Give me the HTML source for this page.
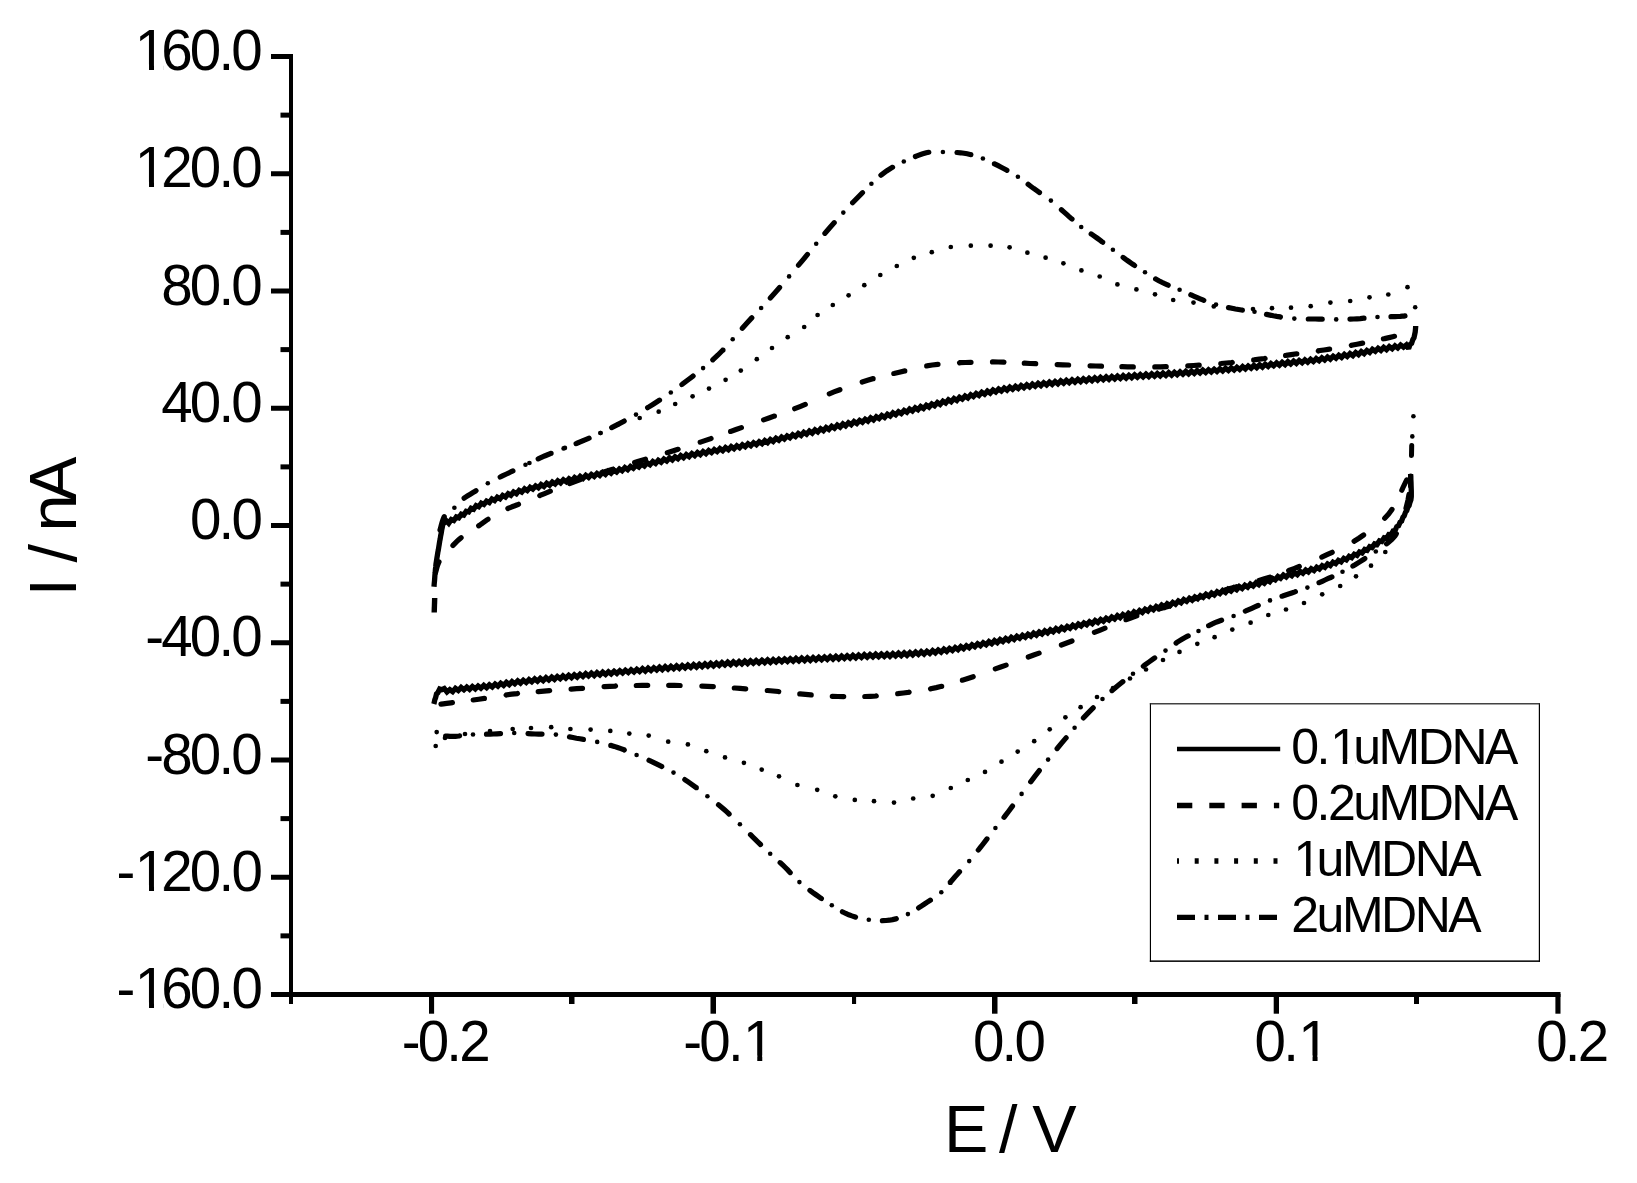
<!DOCTYPE html>
<html lang="en">
<head>
<meta charset="utf-8">
<title>Cyclic voltammograms</title>
<style>
html,body{margin:0;padding:0;background:#fff}
body{width:1637px;height:1183px;overflow:hidden}
svg{display:block}
text{font-family:"Liberation Sans",sans-serif;fill:#000}
.tk text{font-size:56.5px;letter-spacing:-2.8px}
.ax{font-size:66.5px}
.lg text{font-size:50px;letter-spacing:-2.5px}
</style>
</head>
<body>
<svg width="1637" height="1183" viewBox="0 0 1637 1183">
<rect width="1637" height="1183" fill="#fff"/>
<g fill="#000">
<rect x="289" y="54" width="4" height="950"/>
<rect x="271" y="992" width="1289.5" height="5"/>
<rect x="271" y="54.00" width="19" height="5"/>
<rect x="271" y="171.25" width="19" height="5"/>
<rect x="271" y="288.50" width="19" height="5"/>
<rect x="271" y="405.75" width="19" height="5"/>
<rect x="271" y="523.00" width="19" height="5"/>
<rect x="271" y="640.25" width="19" height="5"/>
<rect x="271" y="757.50" width="19" height="5"/>
<rect x="271" y="874.75" width="19" height="5"/>
<rect x="280.5" y="112.62" width="9" height="5"/>
<rect x="280.5" y="229.88" width="9" height="5"/>
<rect x="280.5" y="347.12" width="9" height="5"/>
<rect x="280.5" y="464.38" width="9" height="5"/>
<rect x="280.5" y="581.62" width="9" height="5"/>
<rect x="280.5" y="698.88" width="9" height="5"/>
<rect x="280.5" y="816.12" width="9" height="5"/>
<rect x="280.5" y="933.38" width="9" height="5"/>
<rect x="429" y="994" width="5.1" height="19.7"/>
<rect x="710.5" y="994" width="5.5" height="19.7"/>
<rect x="992" y="994" width="5.5" height="19.7"/>
<rect x="1273.7" y="994" width="5.3" height="19.7"/>
<rect x="1555.4" y="994" width="5.1" height="19.7"/>
<rect x="569" y="994" width="5.5" height="10"/>
<rect x="852" y="994" width="4.1" height="10"/>
<rect x="1132" y="994" width="5.5" height="10"/>
<rect x="1414" y="994" width="5" height="10"/>
</g>
<g class="tk">
<text x="132.6" y="70.1"><tspan dx="2.2">1</tspan><tspan dx="-2.2">60.0</tspan></text>
<text x="132.6" y="187.3"><tspan dx="2.2">1</tspan><tspan dx="-2.2">20.0</tspan></text>
<text x="161.2" y="304.6">80.0</text>
<text x="161.2" y="421.9">40.0</text>
<text x="189.9" y="539.1">0.0</text>
<text x="145.2" y="656.4">-40.0</text>
<text x="145.2" y="773.6">-80.0</text>
<text x="116.6" y="890.9">-<tspan dx="2.2">1</tspan><tspan dx="-2.2">20.0</tspan></text>
<text x="116.6" y="1008.1">-<tspan dx="2.2">1</tspan><tspan dx="-2.2">60.0</tspan></text>
<text x="401.7" y="1061.2">-0.2</text>
<text x="683.3" y="1061.2">-0.<tspan dx="2.2">1</tspan></text>
<text x="973.0" y="1061.2">0.0</text>
<text x="1254.6" y="1061.2">0.<tspan dx="2.2">1</tspan></text>
<text x="1536.2" y="1061.2">0.2</text>
</g>
<text class="ax" x="944 966 999.1 1018 1032.3" y="1152.2">E / V</text>
<text class="ax" transform="translate(76.1 590.5) rotate(-90)" x="-6.1 12 27.9 46 59.1 89.4" y="0">I / nA</text>
<g fill="none" stroke="#000" stroke-linejoin="miter" stroke-miterlimit="1.6">
<path d="M434.0 586.7 L434.2 584.0 L434.5 580.9 L434.7 578.3 L434.9 575.2 L435.2 572.6 L435.4 569.5 L435.7 567.0 L436.0 563.8 L436.4 561.4 L436.9 558.1 L437.3 555.8 L437.8 552.5 L438.3 550.1 L438.8 546.9 L439.2 544.5 L439.7 541.3 L440.2 538.9 L440.7 535.6 L441.2 533.3 L441.7 530.0 L442.2 527.7 L442.8 524.3 L444.0 523.1 L446.2 520.7 L448.7 523.3 L451.3 519.5 L453.8 520.5 L456.3 516.9 L458.8 517.8 L461.3 514.2 L463.8 515.0 L466.2 511.3 L468.7 512.0 L471.1 508.3 L473.6 509.2 L476.1 505.6 L478.7 506.8 L481.3 503.2 L483.9 504.5 L486.6 501.1 L489.3 502.5 L491.9 499.0 L494.6 500.6 L497.3 497.2 L500.0 498.8 L502.7 495.4 L505.5 497.0 L508.2 493.7 L510.9 495.3 L513.6 492.0 L516.4 493.7 L519.1 490.4 L521.8 492.1 L524.6 488.8 L527.3 490.6 L530.1 487.3 L532.8 489.1 L535.6 485.9 L538.4 487.8 L541.1 484.6 L543.9 486.5 L546.7 483.3 L549.5 485.2 L552.3 482.1 L555.1 484.0 L557.8 480.9 L560.6 482.9 L563.4 479.8 L566.2 481.8 L569.0 478.7 L571.8 480.7 L574.6 477.6 L577.4 479.5 L580.2 476.4 L583.0 478.5 L585.8 475.4 L588.6 477.4 L591.4 474.4 L594.2 476.4 L597.0 473.4 L599.8 475.4 L602.6 472.4 L605.4 474.4 L608.2 471.2 L611.0 473.2 L613.8 470.1 L616.6 472.0 L619.4 468.9 L622.1 470.8 L624.9 467.6 L627.7 469.6 L630.5 466.4 L633.3 468.3 L636.1 465.2 L638.9 467.1 L641.6 464.0 L644.4 465.9 L647.2 462.8 L650.0 464.7 L652.8 461.5 L655.6 463.5 L658.3 460.3 L661.1 462.2 L663.9 459.1 L666.7 461.0 L669.5 457.9 L672.3 459.9 L675.1 456.8 L677.9 458.7 L680.7 455.6 L683.5 457.7 L686.3 454.6 L689.1 456.6 L691.9 453.5 L694.7 455.6 L697.5 452.5 L700.3 454.6 L703.1 451.5 L705.9 453.6 L708.7 450.6 L711.5 452.6 L714.3 449.6 L717.1 451.6 L719.9 448.6 L722.7 450.7 L725.5 447.6 L728.4 449.7 L731.2 446.6 L734.0 448.7 L736.8 445.7 L739.6 447.8 L742.4 444.7 L745.2 446.8 L748.0 443.7 L750.8 445.8 L753.6 442.7 L756.4 444.8 L759.2 441.7 L762.0 443.7 L764.8 440.6 L767.6 442.6 L770.4 439.5 L773.2 441.4 L776.0 438.3 L778.8 440.2 L781.6 437.1 L784.3 439.0 L787.1 435.9 L789.9 437.8 L792.7 434.7 L795.5 436.6 L798.3 433.5 L801.1 435.4 L803.8 432.3 L806.6 434.3 L809.4 431.1 L812.2 433.1 L815.0 429.9 L817.8 431.9 L820.6 428.7 L823.4 430.7 L826.1 427.5 L828.9 429.5 L831.7 426.3 L834.5 428.3 L837.3 425.1 L840.1 427.1 L842.9 423.9 L845.6 425.9 L848.4 422.7 L851.2 424.7 L854.0 421.5 L856.8 423.5 L859.6 420.4 L862.4 422.3 L865.2 419.2 L867.9 421.1 L870.7 417.9 L873.5 419.9 L876.3 416.7 L879.1 418.6 L881.8 415.5 L884.6 417.4 L887.4 414.2 L890.2 416.1 L893.0 412.9 L895.7 414.8 L898.5 411.7 L901.3 413.6 L904.1 410.4 L906.9 412.3 L909.6 409.1 L912.4 411.0 L915.2 407.8 L918.0 409.7 L920.7 406.5 L923.5 408.4 L926.3 405.2 L929.0 407.1 L931.8 403.9 L934.6 405.7 L937.4 402.5 L940.1 404.4 L942.9 401.2 L945.7 403.0 L948.4 399.8 L951.2 401.7 L954.0 398.5 L956.8 400.4 L959.5 397.2 L962.3 399.1 L965.1 396.0 L967.9 397.9 L970.7 394.7 L973.4 396.6 L976.2 393.5 L979.0 395.4 L981.8 392.3 L984.6 394.2 L987.4 391.1 L990.2 393.1 L993.0 390.0 L995.8 392.0 L998.6 389.0 L1001.4 391.0 L1004.2 388.0 L1007.0 390.1 L1009.8 387.1 L1012.6 389.3 L1015.5 386.3 L1018.3 388.5 L1021.1 385.5 L1023.9 387.7 L1026.8 384.8 L1029.6 387.0 L1032.4 384.1 L1035.2 386.3 L1038.1 383.4 L1040.9 385.6 L1043.7 382.7 L1046.6 385.0 L1049.4 382.1 L1052.2 384.4 L1055.1 381.5 L1057.9 383.8 L1060.7 380.9 L1063.6 383.2 L1066.4 380.3 L1069.2 382.7 L1072.1 379.8 L1074.9 382.1 L1077.8 379.3 L1080.6 381.6 L1083.4 378.8 L1086.3 381.1 L1089.1 378.3 L1092.0 380.6 L1094.8 377.8 L1097.6 380.2 L1100.5 377.3 L1103.3 379.7 L1106.2 376.9 L1109.0 379.3 L1111.8 376.5 L1114.7 378.9 L1117.5 376.1 L1120.4 378.5 L1123.2 375.7 L1126.1 378.1 L1128.9 375.3 L1131.7 377.7 L1134.6 374.9 L1137.4 377.3 L1140.3 374.6 L1143.1 377.0 L1146.0 374.2 L1148.8 376.6 L1151.7 373.8 L1154.5 376.2 L1157.3 373.5 L1160.2 375.9 L1163.0 373.1 L1165.9 375.5 L1168.7 372.7 L1171.6 375.1 L1174.4 372.3 L1177.2 374.7 L1180.1 371.9 L1182.9 374.2 L1185.8 371.4 L1188.6 373.8 L1191.5 371.0 L1194.3 373.4 L1197.1 370.6 L1200.0 372.9 L1202.8 370.1 L1205.7 372.5 L1208.5 369.7 L1211.3 372.0 L1214.2 369.2 L1217.0 371.5 L1219.9 368.7 L1222.7 371.0 L1225.5 368.2 L1228.4 370.5 L1231.2 367.7 L1234.1 370.0 L1236.9 367.2 L1239.7 369.5 L1242.6 366.6 L1245.4 368.9 L1248.2 366.0 L1251.1 368.3 L1253.9 365.4 L1256.7 367.7 L1259.6 364.8 L1262.4 367.1 L1265.2 364.2 L1268.1 366.4 L1270.9 363.5 L1273.7 365.8 L1276.6 362.9 L1279.4 365.2 L1282.2 362.3 L1285.1 364.6 L1287.9 361.7 L1290.7 364.0 L1293.6 361.1 L1296.4 363.4 L1299.2 360.5 L1302.1 362.8 L1304.9 359.9 L1307.7 362.2 L1310.6 359.3 L1313.4 361.5 L1316.2 358.6 L1319.1 360.8 L1321.9 357.8 L1324.7 360.0 L1327.5 357.0 L1330.3 359.2 L1333.2 356.2 L1336.0 358.3 L1338.8 355.3 L1341.6 357.4 L1344.4 354.4 L1347.2 356.5 L1350.0 353.5 L1352.9 355.6 L1355.7 352.5 L1358.5 354.6 L1361.3 351.6 L1364.1 353.6 L1366.9 350.5 L1369.7 352.4 L1372.4 349.3 L1375.3 351.3 L1378.1 348.3 L1380.9 350.4 L1383.7 347.4 L1386.5 349.6 L1389.3 346.6 L1392.2 348.8 L1395.0 345.8 L1397.8 348.0 L1400.6 345.0 L1403.5 347.2 L1406.3 344.9 L1408.6 348.7 L1410.1 344.4 L1411.6 343.3 L1412.9 339.5 L1414.0 337.8 L1414.7 334.4 L1415.2 332.1 L1415.5 328.9 L1415.7 326.3 L1415.7 326.0" stroke-width="5.3"/>
<path d="M1410.6 474.0 L1410.7 476.9 L1410.8 479.6 L1411.0 482.6 L1411.1 485.3 L1411.2 488.3 L1411.3 491.1 L1411.3 494.0 L1411.3 496.7 L1410.9 499.9 L1410.1 501.9 L1409.1 505.5 L1407.9 507.1 L1406.7 510.7 L1405.5 512.2 L1404.2 515.9 L1403.0 517.2 L1401.6 521.0 L1400.1 522.1 L1398.5 525.9 L1396.8 526.7 L1395.1 530.5 L1393.2 530.9 L1391.1 534.7 L1388.8 534.5 L1386.6 538.3 L1384.2 537.8 L1381.8 541.5 L1379.5 540.9 L1377.0 544.6 L1374.6 543.9 L1372.1 547.5 L1369.7 546.7 L1367.2 550.3 L1364.7 549.4 L1362.1 553.0 L1359.5 551.9 L1357.0 555.4 L1354.3 554.2 L1351.7 557.7 L1349.1 556.4 L1346.4 559.8 L1343.8 558.4 L1341.1 561.8 L1338.4 560.4 L1335.7 563.7 L1333.0 562.2 L1330.3 565.6 L1327.6 564.0 L1324.9 567.3 L1322.2 565.7 L1319.4 569.0 L1316.7 567.3 L1314.0 570.6 L1311.2 568.8 L1308.4 572.0 L1305.7 570.1 L1302.9 573.3 L1300.1 571.4 L1297.3 574.6 L1294.5 572.6 L1291.8 575.8 L1289.0 573.9 L1286.2 577.0 L1283.4 575.1 L1280.6 578.3 L1277.9 576.5 L1275.2 579.8 L1272.5 578.4 L1269.8 581.8 L1267.1 580.0 L1264.3 583.2 L1261.5 581.4 L1258.8 584.6 L1256.0 582.7 L1253.2 585.9 L1250.4 584.0 L1247.7 587.2 L1244.9 585.3 L1242.1 588.5 L1239.3 586.6 L1236.6 589.8 L1233.8 587.9 L1231.0 591.1 L1228.2 589.2 L1225.5 592.4 L1222.7 590.5 L1219.9 593.6 L1217.1 591.7 L1214.3 594.9 L1211.6 593.0 L1208.8 596.2 L1206.0 594.3 L1203.2 597.4 L1200.4 595.6 L1197.7 598.7 L1194.9 596.9 L1192.1 600.1 L1189.4 598.2 L1186.6 601.4 L1183.8 599.6 L1181.1 602.8 L1178.3 601.0 L1175.5 604.2 L1172.8 602.4 L1170.0 605.6 L1167.2 603.8 L1164.5 607.0 L1161.7 605.1 L1158.9 608.3 L1156.2 606.5 L1153.4 609.7 L1150.6 607.8 L1147.9 611.0 L1145.1 609.2 L1142.3 612.4 L1139.6 610.6 L1136.8 613.8 L1134.0 611.9 L1131.3 615.1 L1128.5 613.2 L1125.7 616.4 L1122.9 614.5 L1120.1 617.7 L1117.4 615.7 L1114.6 618.9 L1111.8 617.0 L1109.0 620.1 L1106.2 618.2 L1103.4 621.3 L1100.7 619.4 L1097.9 622.5 L1095.1 620.5 L1092.3 623.7 L1089.5 621.7 L1086.7 624.8 L1083.9 622.9 L1081.1 626.0 L1078.3 624.0 L1075.5 627.2 L1072.8 625.2 L1070.0 628.3 L1067.2 626.4 L1064.4 629.5 L1061.6 627.5 L1058.8 630.6 L1056.0 628.6 L1053.2 631.7 L1050.4 629.8 L1047.6 632.9 L1044.8 630.9 L1042.0 634.0 L1039.2 632.0 L1036.4 635.1 L1033.6 633.1 L1030.8 636.2 L1028.0 634.2 L1025.3 637.3 L1022.5 635.3 L1019.7 638.3 L1016.9 636.3 L1014.1 639.4 L1011.3 637.4 L1008.5 640.5 L1005.7 638.5 L1002.9 641.5 L1000.1 639.5 L997.3 642.6 L994.5 640.6 L991.7 643.7 L988.9 641.6 L986.1 644.7 L983.2 642.7 L980.4 645.7 L977.6 643.7 L974.8 646.8 L972.0 644.7 L969.2 647.8 L966.4 645.7 L963.6 648.7 L960.8 646.6 L958.0 649.6 L955.2 647.5 L952.4 650.5 L949.5 648.4 L946.7 651.4 L943.9 649.2 L941.1 652.2 L938.2 650.0 L935.4 652.9 L932.6 650.6 L929.8 653.5 L926.9 651.2 L924.1 654.1 L921.2 651.7 L918.4 654.5 L915.6 652.1 L912.7 654.9 L909.9 652.5 L907.0 655.3 L904.2 652.9 L901.3 655.7 L898.5 653.2 L895.6 656.0 L892.8 653.5 L889.9 656.3 L887.1 653.8 L884.3 656.5 L881.4 654.0 L878.6 656.7 L875.7 654.2 L872.9 656.9 L870.0 654.5 L867.2 657.2 L864.3 654.7 L861.5 657.5 L858.6 655.0 L855.8 657.8 L852.9 655.4 L850.1 658.1 L847.2 655.7 L844.4 658.4 L841.6 656.0 L838.7 658.8 L835.9 656.3 L833.0 659.1 L830.2 656.6 L827.3 659.4 L824.5 657.0 L821.6 659.7 L818.8 657.3 L815.9 660.0 L813.1 657.6 L810.3 660.3 L807.4 657.8 L804.6 660.6 L801.7 658.1 L798.9 660.9 L796.0 658.4 L793.2 661.1 L790.3 658.7 L787.5 661.4 L784.6 659.0 L781.8 661.7 L778.9 659.3 L776.1 662.0 L773.2 659.6 L770.4 662.3 L767.6 659.9 L764.7 662.6 L761.9 660.2 L759.0 662.9 L756.2 660.5 L753.3 663.2 L750.5 660.8 L747.6 663.6 L744.8 661.1 L741.9 663.9 L739.1 661.5 L736.3 664.2 L733.4 661.8 L730.6 664.6 L727.7 662.2 L724.9 665.0 L722.0 662.6 L719.2 665.4 L716.4 663.0 L713.5 665.8 L710.7 663.4 L707.8 666.2 L705.0 663.8 L702.1 666.6 L699.3 664.3 L696.5 667.1 L693.6 664.7 L690.8 667.5 L687.9 665.1 L685.1 667.9 L682.2 665.5 L679.4 668.3 L676.6 665.9 L673.7 668.7 L670.9 666.3 L668.0 669.1 L665.2 666.7 L662.3 669.6 L659.5 667.2 L656.7 670.0 L653.8 667.7 L651.0 670.5 L648.1 668.1 L645.3 671.0 L642.5 668.6 L639.6 671.5 L636.8 669.2 L634.0 672.0 L631.1 669.7 L628.3 672.5 L625.4 670.2 L622.6 673.0 L619.8 670.7 L616.9 673.5 L614.1 671.2 L611.2 674.0 L608.4 671.7 L605.6 674.5 L602.7 672.1 L599.9 675.0 L597.0 672.6 L594.2 675.5 L591.4 673.1 L588.5 676.0 L585.7 673.6 L582.9 676.5 L580.0 674.2 L577.2 677.1 L574.3 674.8 L571.5 677.6 L568.7 675.3 L565.8 678.2 L563.0 675.9 L560.2 678.8 L557.3 676.5 L554.5 679.4 L551.7 677.1 L548.8 680.0 L546.0 677.7 L543.2 680.6 L540.3 678.3 L537.5 681.2 L534.7 678.9 L531.8 681.8 L529.0 679.6 L526.2 682.5 L523.3 680.2 L520.5 683.1 L517.7 680.9 L514.8 683.8 L512.0 681.6 L509.2 684.6 L506.4 682.4 L503.6 685.4 L500.7 683.2 L497.9 686.2 L495.1 684.0 L492.3 687.0 L489.4 684.8 L486.6 687.7 L483.8 685.4 L480.9 688.3 L478.1 686.0 L475.3 688.9 L472.4 686.5 L469.6 689.4 L466.8 687.0 L463.9 689.8 L461.1 687.5 L458.3 690.5 L455.4 688.4 L452.7 691.6 L449.8 689.5 L447.0 691.9 L444.3 688.5 L441.8 689.7 L439.7 689.0 L437.8 692.8 L436.5 694.0 L435.6 697.6 L434.8 699.7 L434.1 703.1 L433.8 704.1" stroke-width="5.3"/>
<path d="M435.5 572.8 L435.9 571.4 L436.4 569.5 L437.0 567.2 L437.8 564.8 L438.8 562.3 L439.0 561.9 M452.9 545.5 L453.5 544.8 L455.2 543.1 L456.9 541.4 L458.7 539.8 L460.5 538.2 L461.1 537.7 M478.7 525.8 L479.2 525.5 L481.2 524.0 L483.2 522.6 L485.3 521.1 L487.4 519.7 L488.0 519.3 M507.9 508.5 L508.6 508.2 L510.7 507.3 L512.7 506.5 L514.9 505.7 L517.3 504.8 L518.5 504.3 M539.8 495.6 L540.1 495.4 L544.6 493.6 L549.2 491.7 L550.3 491.2 M569.6 483.5 L575.0 481.5 L580.4 479.6 M602.0 472.6 L603.9 472.0 L611.9 469.5 L612.9 469.2 M634.6 462.5 L637.7 461.6 L645.5 459.2 M667.3 452.7 L672.7 451.0 L678.1 449.3 M700.2 442.2 L700.5 442.1 L705.6 440.4 L710.8 438.6 L711.0 438.5 M730.6 431.4 L730.8 431.4 L736.0 429.5 L741.4 427.6 L741.4 427.6 M763.6 419.9 L769.0 418.0 L774.2 416.1 L774.4 416.1 M794.7 408.7 L800.0 406.6 L805.3 404.4 M829.3 393.8 L834.6 391.7 L839.9 389.7 M862.2 382.0 L862.2 382.0 L867.6 380.3 L872.9 378.7 L873.1 378.7 M893.8 373.5 L894.0 373.5 L899.3 372.2 L904.7 370.9 L904.8 370.9 M926.7 365.9 L926.8 365.9 L932.3 365.0 L937.8 364.3 L938.0 364.3 M959.6 362.8 L959.8 362.7 L965.3 362.5 L970.8 362.3 L971.0 362.3 M992.5 361.9 L992.8 361.9 L998.2 362.0 L1003.6 362.1 L1003.9 362.2 M1024.3 363.2 L1024.6 363.2 L1030.0 363.5 L1035.4 363.7 L1035.7 363.7 M1057.2 364.6 L1057.4 364.6 L1062.9 364.8 L1068.4 365.0 L1068.6 365.0 M1090.1 365.8 L1090.4 365.8 L1095.8 366.0 L1101.2 366.2 L1101.5 366.2 M1121.9 366.7 L1122.2 366.7 L1127.6 366.8 L1133.0 366.9 L1133.3 366.9 M1154.8 366.9 L1155.0 366.9 L1160.5 366.8 L1166.0 366.7 L1166.2 366.7 M1187.8 365.8 L1188.0 365.8 L1193.5 365.5 L1199.0 365.2 L1199.2 365.2 M1220.8 363.5 L1221.0 363.5 L1226.5 363.0 L1232.0 362.5 L1232.2 362.4 M1253.7 359.9 L1254.0 359.9 L1259.4 359.2 L1264.8 358.5 L1265.0 358.4 M1285.6 355.4 L1285.9 355.4 L1291.2 354.6 L1296.6 353.8 L1296.8 353.8 M1318.4 350.9 L1318.5 350.8 L1324.0 350.0 L1329.5 349.1 L1329.6 349.1 M1351.4 345.3 L1351.6 345.2 L1357.0 344.2 L1362.6 343.1 L1362.6 343.1 M1383.4 338.8 L1384.6 338.6 L1389.0 337.6 L1392.7 336.7 L1394.5 336.3" stroke-width="5.2" stroke-linecap="round"/>
<path d="M1406.7 479.9 L1406.7 479.9 L1405.0 483.3 L1403.0 487.5 L1401.8 490.2 M1392.0 509.4 L1388.6 514.0 L1384.7 518.2 M1363.6 535.0 L1358.9 538.2 L1354.1 541.2 M1332.2 552.3 L1327.0 554.7 L1321.8 557.1 M1299.3 566.5 L1294.0 568.6 L1288.9 570.5 L1288.7 570.6 M1269.9 577.1 L1269.7 577.2 L1264.5 578.8 L1259.0 580.4 M1236.5 586.7 L1235.7 586.9 L1230.0 588.5 L1225.6 589.8 M1203.1 596.2 L1202.5 596.4 L1197.0 598.0 L1192.2 599.4 M1169.8 605.9 L1169.8 605.9 L1164.3 607.5 L1158.8 609.1 M1136.8 615.9 L1131.4 617.7 L1126.1 619.7 L1126.0 619.7 M1105.0 628.2 L1099.7 630.3 L1094.4 632.4 M1072.0 641.0 L1066.7 643.0 L1061.4 645.0 M1039.1 653.1 L1033.7 655.0 L1028.3 657.0 M1006.1 665.1 L1000.7 667.0 L995.3 668.9 M973.2 676.7 L973.2 676.7 L967.8 678.5 L962.5 680.2 L962.4 680.2 M941.7 686.3 L941.5 686.3 L936.2 687.6 L930.8 688.7 L930.6 688.8 M909.0 692.2 L908.9 692.3 L903.4 693.0 L897.9 693.7 L897.7 693.7 M876.2 695.9 L876.0 696.0 L870.5 696.3 L865.1 696.5 L864.8 696.5 M843.7 696.6 L843.4 696.6 L838.0 696.5 L832.6 696.3 L832.3 696.3 M811.2 694.9 L810.9 694.9 L805.5 694.4 L800.1 693.9 L799.8 693.9 M778.7 691.6 L778.4 691.5 L773.0 691.0 L767.5 690.5 L767.3 690.5 M745.7 688.8 L745.5 688.8 L740.0 688.4 L734.6 688.0 L734.3 688.0 M713.3 686.6 L713.0 686.6 L707.6 686.3 L702.1 686.1 L701.9 686.1 M680.1 685.5 L679.9 685.5 L674.4 685.4 L669.0 685.3 L668.7 685.3 M647.7 685.3 L647.4 685.3 L642.0 685.4 L636.6 685.5 L636.3 685.5 M615.5 686.0 L615.2 686.1 L609.8 686.3 L604.3 686.6 L604.1 686.6 M582.5 688.3 L582.3 688.3 L576.8 688.7 L571.3 689.1 L571.1 689.1 M549.6 690.6 L549.3 690.7 L543.9 691.1 L538.5 691.6 L538.2 691.6 M517.5 693.5 L517.2 693.6 L511.8 694.2 L506.3 694.9 L506.2 695.0 M484.4 698.4 L484.3 698.4 L478.8 699.2 L473.2 700.0 L473.2 700.0 M452.4 702.7 L450.9 702.9 L446.7 703.4 L443.3 703.8 L441.0 704.1" stroke-width="5.2" stroke-linecap="round"/>
<path d="M434.2 612.5L434.7 598" stroke-width="5.4"/>
<g fill="#000" stroke="none">
<circle cx="512.0" cy="471.3" r="2.35"/><circle cx="529.4" cy="463.0" r="2.35"/><circle cx="547.0" cy="455.0" r="2.35"/><circle cx="564.9" cy="447.9" r="2.35"/><circle cx="582.9" cy="440.8" r="2.35"/><circle cx="600.5" cy="433.0" r="2.35"/><circle cx="617.8" cy="424.5" r="2.35"/><circle cx="639.7" cy="418.0" r="2.35"/><circle cx="658.7" cy="411.7" r="2.35"/><circle cx="675.2" cy="404.0" r="2.35"/><circle cx="692.6" cy="396.3" r="2.35"/><circle cx="709.0" cy="388.6" r="2.35"/><circle cx="725.6" cy="379.8" r="2.35"/><circle cx="740.8" cy="370.6" r="2.35"/><circle cx="756.8" cy="359.2" r="2.35"/><circle cx="772.0" cy="348.0" r="2.35"/><circle cx="787.7" cy="337.2" r="2.35"/><circle cx="804.2" cy="327.0" r="2.35"/><circle cx="817.6" cy="315.0" r="2.35"/><circle cx="832.8" cy="305.0" r="2.35"/><circle cx="848.6" cy="295.3" r="2.35"/><circle cx="864.3" cy="285.2" r="2.35"/><circle cx="880.3" cy="275.0" r="2.35"/><circle cx="896.8" cy="266.0" r="2.35"/><circle cx="913.8" cy="257.8" r="2.35"/><circle cx="931.8" cy="252.2" r="2.35"/><circle cx="950.8" cy="247.0" r="2.35"/><circle cx="970.8" cy="245.7" r="2.35"/><circle cx="990.6" cy="245.7" r="2.35"/><circle cx="1009.6" cy="247.3" r="2.35"/><circle cx="1027.4" cy="252.7" r="2.35"/><circle cx="1045.6" cy="257.7" r="2.35"/><circle cx="1063.4" cy="263.3" r="2.35"/><circle cx="1081.4" cy="270.4" r="2.35"/><circle cx="1099.7" cy="276.5" r="2.35"/><circle cx="1117.4" cy="284.4" r="2.35"/><circle cx="1136.4" cy="289.4" r="2.35"/><circle cx="1155.0" cy="294.3" r="2.35"/><circle cx="1173.2" cy="300.0" r="2.35"/><circle cx="1193.5" cy="302.6" r="2.35"/><circle cx="1213.8" cy="306.4" r="2.35"/><circle cx="1233.0" cy="308.5" r="2.35"/><circle cx="1253.0" cy="309.0" r="2.35"/><circle cx="1272.0" cy="308.2" r="2.35"/><circle cx="1291.0" cy="307.7" r="2.35"/><circle cx="1310.7" cy="306.2" r="2.35"/><circle cx="1330.4" cy="302.6" r="2.35"/><circle cx="1350.2" cy="301.0" r="2.35"/><circle cx="1369.5" cy="297.3" r="2.35"/><circle cx="1388.3" cy="294.5" r="2.35"/><circle cx="1407.5" cy="287.2" r="2.35"/>
<circle cx="1385.3" cy="552.0" r="2.35"/><circle cx="1371.0" cy="565.7" r="2.35"/><circle cx="1356.0" cy="576.3" r="2.35"/><circle cx="1340.2" cy="586.0" r="2.35"/><circle cx="1322.2" cy="594.3" r="2.35"/><circle cx="1304.0" cy="603.0" r="2.35"/><circle cx="1286.0" cy="609.5" r="2.35"/><circle cx="1268.3" cy="615.0" r="2.35"/><circle cx="1250.6" cy="622.7" r="2.35"/><circle cx="1232.3" cy="629.6" r="2.35"/><circle cx="1214.6" cy="637.2" r="2.35"/><circle cx="1197.3" cy="643.8" r="2.35"/><circle cx="1179.5" cy="651.9" r="2.35"/><circle cx="1163.0" cy="660.0" r="2.35"/><circle cx="1146.0" cy="669.5" r="2.35"/><circle cx="1130.0" cy="678.5" r="2.35"/><circle cx="1113.0" cy="688.0" r="2.35"/><circle cx="1097.0" cy="697.0" r="2.35"/><circle cx="1080.6" cy="707.2" r="2.35"/><circle cx="1065.4" cy="717.3" r="2.35"/><circle cx="1049.7" cy="729.3" r="2.35"/><circle cx="1034.2" cy="741.2" r="2.35"/><circle cx="1017.7" cy="751.6" r="2.35"/><circle cx="1001.5" cy="761.7" r="2.35"/><circle cx="985.0" cy="771.9" r="2.35"/><circle cx="967.8" cy="780.0" r="2.35"/><circle cx="950.8" cy="788.0" r="2.35"/><circle cx="932.7" cy="795.8" r="2.35"/><circle cx="913.2" cy="798.5" r="2.35"/><circle cx="894.0" cy="802.6" r="2.35"/><circle cx="874.0" cy="801.2" r="2.35"/><circle cx="854.8" cy="799.9" r="2.35"/><circle cx="835.3" cy="796.3" r="2.35"/><circle cx="817.2" cy="789.8" r="2.35"/><circle cx="797.4" cy="785.0" r="2.35"/><circle cx="779.0" cy="776.3" r="2.35"/><circle cx="761.7" cy="769.6" r="2.35"/><circle cx="743.9" cy="762.8" r="2.35"/><circle cx="725.0" cy="757.4" r="2.35"/><circle cx="706.3" cy="751.2" r="2.35"/><circle cx="687.9" cy="744.4" r="2.35"/><circle cx="668.2" cy="741.7" r="2.35"/><circle cx="648.7" cy="735.6" r="2.35"/><circle cx="629.3" cy="733.6" r="2.35"/><circle cx="610.3" cy="730.9" r="2.35"/><circle cx="590.6" cy="729.6" r="2.35"/><circle cx="570.4" cy="729.0" r="2.35"/><circle cx="551.2" cy="727.2" r="2.35"/><circle cx="531.0" cy="728.0" r="2.35"/><circle cx="512.7" cy="729.0" r="2.35"/><circle cx="490.0" cy="731.0" r="2.35"/><circle cx="465.0" cy="734.0" r="2.35"/><circle cx="445.0" cy="738.0" r="2.35"/><circle cx="435.7" cy="746.0" r="2.35"/><circle cx="436.7" cy="732.1" r="2.35"/>
</g>
<path d="M440.0 530.0 L440.5 528.3 L441.1 525.8 L441.9 522.9 L442.8 520.0 L443.9 517.2 L444.2 516.6 M464.1 498.2 L465.2 497.4 L467.7 495.8 L470.3 494.2 L473.0 492.5 L475.6 491.0 L476.0 490.7 M500.2 477.0 L502.4 475.9 L506.5 474.0 L511.6 471.5 L512.9 470.9 M538.2 458.9 L544.6 456.0 L551.0 453.3 L551.1 453.3 M576.1 443.6 L576.4 443.5 L582.6 440.9 L588.6 438.3 L589.1 438.1 M611.7 427.6 L612.1 427.4 L618.0 424.4 L623.9 421.3 L624.2 421.1 M647.6 407.7 L647.8 407.6 L653.6 404.0 L659.4 400.3 L659.5 400.2 M681.9 384.5 L682.1 384.4 L687.5 380.3 L692.8 376.3 L693.1 376.0 M712.8 359.8 L713.0 359.6 L718.0 355.0 L722.9 350.0 L723.0 350.0 M742.3 328.2 L747.0 323.0 L751.7 317.9 L751.8 317.8 M770.3 298.0 L770.3 298.0 L775.0 292.8 L779.6 287.5 M798.5 265.2 L803.0 259.8 L807.5 254.4 L807.5 254.4 M824.9 233.3 L825.0 233.2 L829.5 228.0 L834.1 222.8 L834.2 222.7 M852.6 202.7 L852.8 202.5 L857.5 197.7 L862.2 192.9 L862.5 192.7 M880.9 175.2 L881.4 174.8 L886.6 171.0 L892.3 167.4 L892.6 167.3 M915.4 156.5 L916.9 155.9 L922.0 154.0 L926.3 152.8 L928.8 152.3 M957.0 152.5 L957.0 152.5 L960.6 152.8 L964.0 153.3 L967.2 153.8 L970.1 154.5 L970.9 154.6 M994.4 163.8 L994.5 163.8 L997.7 165.4 L1000.7 167.0 L1003.6 168.5 L1006.4 170.0 L1006.9 170.3 M1028.1 184.3 L1028.2 184.4 L1031.0 186.5 L1033.7 188.5 L1036.5 190.4 L1039.2 192.3 L1039.5 192.5 M1061.4 209.7 L1064.1 212.1 L1066.7 214.4 L1069.1 216.6 L1071.4 218.6 L1072.0 219.1 M1091.2 234.0 L1091.5 234.2 L1094.3 236.1 L1097.0 238.0 L1099.6 239.9 L1102.1 241.8 L1102.7 242.2 M1123.1 257.4 L1123.4 257.6 L1126.1 259.6 L1128.8 261.5 L1131.4 263.3 L1133.9 265.0 L1134.6 265.5 M1155.6 278.9 L1155.8 279.0 L1158.8 280.7 L1161.8 282.3 L1164.7 283.7 L1167.5 284.9 L1168.2 285.2 M1190.8 294.8 L1191.2 295.0 L1194.3 296.3 L1197.3 297.6 L1200.1 298.8 L1202.8 299.9 L1203.8 300.3 M1228.5 307.6 L1232.0 308.3 L1235.4 309.0 L1238.5 309.5 L1241.5 310.0 L1242.4 310.1 M1266.5 314.4 L1266.5 314.4 L1270.0 315.1 L1273.4 315.8 L1276.8 316.4 L1280.1 316.9 L1280.4 317.0 M1308.3 319.0 L1311.7 319.0 L1315.3 319.0 L1318.8 319.1 L1322.3 319.2 L1322.3 319.2 M1350.0 319.1 L1350.1 319.1 L1353.6 319.0 L1357.0 318.8 L1360.4 318.6 L1363.7 318.2 L1364.0 318.2 M1391.0 316.7 L1391.8 316.7 L1395.1 316.6 L1398.0 316.5 L1400.3 316.4 L1402.3 316.2 L1403.9 316.1 L1405.0 315.9" stroke-width="5.2" stroke-linecap="round"/>
<path d="M1409.0 494.5 L1408.6 496.6 L1408.0 500.0 L1407.2 503.3 L1406.4 506.6 L1406.0 508.2 M1396.3 533.8 L1395.0 535.9 L1391.9 539.3 L1387.5 543.1 L1386.5 543.8 M1364.8 558.6 L1363.8 559.3 L1358.9 562.4 L1355.1 564.8 L1352.9 566.1 M1331.9 576.9 L1330.6 577.5 L1327.8 578.7 L1325.0 580.0 L1322.2 581.3 L1319.3 582.6 L1319.0 582.7 M1295.4 591.7 L1294.9 591.9 L1291.7 593.0 L1288.6 594.0 L1285.6 595.0 L1282.7 596.0 L1282.0 596.2 M1258.2 605.4 L1258.1 605.5 L1254.9 606.9 L1251.8 608.3 L1248.8 609.6 L1245.8 610.9 L1245.3 611.1 M1221.6 620.2 L1221.3 620.3 L1218.1 621.5 L1215.0 622.7 L1211.9 624.1 L1208.9 625.6 L1208.6 625.7 M1188.2 635.9 L1187.1 636.4 L1184.6 637.7 L1182.0 639.2 L1179.3 640.9 L1176.6 642.7 L1176.1 643.1 M1154.7 657.9 L1152.6 659.4 L1149.0 662.0 L1144.6 665.2 L1143.3 666.2 M1122.9 681.6 L1122.7 681.7 L1117.4 686.0 L1112.4 690.3 L1112.0 690.6 M1093.2 707.8 L1092.9 708.1 L1088.2 712.8 L1083.6 717.6 L1083.4 717.9 M1066.1 737.8 L1066.0 737.9 L1061.6 743.2 L1057.2 748.5 L1057.1 748.6 M1039.3 770.6 L1035.0 776.2 L1030.7 781.8 M1012.5 806.1 L1011.9 806.9 L1008.3 811.7 L1005.5 815.4 L1004.0 817.3 M987.0 838.9 L984.9 841.6 L982.7 844.5 L980.6 847.2 L978.5 849.8 L978.3 850.0 M959.5 871.8 L957.3 874.3 L954.8 877.0 L952.5 879.7 L950.3 882.3 L950.3 882.4 M930.4 900.2 L930.2 900.3 L927.3 902.2 L924.5 904.0 L921.7 905.8 L918.9 907.7 L918.6 907.9 M896.3 918.7 L895.7 918.9 L892.6 919.6 L889.4 920.2 L886.0 920.5 L882.5 920.7 L882.4 920.7 M855.5 917.1 L855.1 916.9 L851.9 915.9 L848.8 914.8 L845.8 913.5 L842.9 912.0 L842.4 911.8 M821.4 898.5 L821.0 898.3 L818.3 896.4 L815.6 894.5 L812.9 892.6 L810.2 890.6 L809.9 890.4 M790.2 872.6 L790.0 872.4 L787.7 869.9 L785.3 867.5 L782.9 865.2 L780.4 862.9 L780.1 862.7 M760.5 844.5 L760.5 844.5 L758.0 842.1 L755.5 839.6 L752.9 837.1 L750.5 834.7 M729.1 814.0 L726.6 811.7 L723.9 809.3 L721.2 807.0 L718.5 804.8 M696.3 787.7 L696.2 787.7 L693.4 785.6 L690.6 783.6 L687.8 781.7 L685.1 779.8 L684.8 779.6 M661.7 766.4 L661.6 766.3 L658.5 764.8 L655.4 763.3 L652.3 761.8 L649.2 760.4 L649.0 760.3 M624.2 749.9 L624.1 749.8 L620.9 748.6 L617.6 747.5 L614.3 746.4 L610.9 745.4 L610.8 745.4 M583.4 739.4 L583.3 739.4 L579.9 738.8 L576.4 738.2 L572.9 737.5 L569.5 736.9 M542.0 734.1 L541.9 734.1 L538.5 734.1 L535.0 734.0 L531.5 733.8 L528.0 733.6 M500.5 733.6 L500.2 733.6 L496.9 733.8 L493.5 734.0 L490.1 734.1 L486.7 734.2 L486.5 734.2 M459.6 735.9 L458.8 736.0 L455.5 736.3 L452.6 736.4 L449.9 736.4 L447.5 736.2 L445.6 736.0" stroke-width="5.2" stroke-linecap="round"/>
<path d="M1411.7 445.5L1411.5 455.5M1410.7 476L1410.5 486" stroke-width="5" stroke-linecap="round"/>
</g>
<g fill="#000" stroke="none">
<circle cx="454.4" cy="507.8" r="2.3"/><circle cx="487.8" cy="483.2" r="2.3"/><circle cx="525.5" cy="464.8" r="2.3"/><circle cx="563.6" cy="448.4" r="2.3"/><circle cx="600.5" cy="433.0" r="2.3"/><circle cx="636.0" cy="414.6" r="2.3"/><circle cx="670.8" cy="392.5" r="2.3"/><circle cx="703.1" cy="368.1" r="2.3"/><circle cx="732.7" cy="339.2" r="2.3"/><circle cx="761.1" cy="308.0" r="2.3"/><circle cx="789.1" cy="276.4" r="2.3"/><circle cx="816.2" cy="243.8" r="2.3"/><circle cx="843.3" cy="212.6" r="2.3"/><circle cx="871.4" cy="183.7" r="2.3"/><circle cx="903.8" cy="161.5" r="2.3"/><circle cx="942.9" cy="152.0" r="2.3"/><circle cx="982.9" cy="158.5" r="2.3"/><circle cx="1017.9" cy="176.7" r="2.3"/><circle cx="1050.9" cy="200.6" r="2.3"/><circle cx="1081.2" cy="227.0" r="2.3"/><circle cx="1112.9" cy="249.8" r="2.3"/><circle cx="1145.0" cy="272.3" r="2.3"/><circle cx="1179.6" cy="289.8" r="2.3"/><circle cx="1216.0" cy="304.6" r="2.3"/><circle cx="1254.5" cy="311.8" r="2.3"/><circle cx="1294.3" cy="318.6" r="2.3"/><circle cx="1336.2" cy="319.4" r="2.3"/><circle cx="1377.5" cy="317.0" r="2.3"/><circle cx="1415.2" cy="307.2" r="2.3"/><circle cx="1401.6" cy="521.2" r="2.3"/><circle cx="1375.8" cy="551.5" r="2.3"/><circle cx="1342.5" cy="571.7" r="2.3"/><circle cx="1307.4" cy="587.6" r="2.3"/><circle cx="1270.0" cy="600.4" r="2.3"/><circle cx="1233.6" cy="616.0" r="2.3"/><circle cx="1198.5" cy="631.0" r="2.3"/><circle cx="1165.5" cy="650.6" r="2.3"/><circle cx="1133.0" cy="673.8" r="2.3"/><circle cx="1102.5" cy="699.0" r="2.3"/><circle cx="1074.6" cy="727.8" r="2.3"/><circle cx="1048.1" cy="759.6" r="2.3"/><circle cx="1021.6" cy="793.9" r="2.3"/><circle cx="995.4" cy="828.0" r="2.3"/><circle cx="969.2" cy="861.1" r="2.3"/><circle cx="941.3" cy="892.3" r="2.3"/><circle cx="907.9" cy="914.1" r="2.3"/><circle cx="868.8" cy="919.8" r="2.3"/><circle cx="831.8" cy="905.3" r="2.3"/><circle cx="799.4" cy="882.1" r="2.3"/><circle cx="770.2" cy="853.8" r="2.3"/><circle cx="739.9" cy="824.3" r="2.3"/><circle cx="707.4" cy="796.3" r="2.3"/><circle cx="673.5" cy="772.6" r="2.3"/><circle cx="636.6" cy="755.0" r="2.3"/><circle cx="597.2" cy="741.9" r="2.3"/><circle cx="555.9" cy="734.6" r="2.3"/><circle cx="514.2" cy="733.0" r="2.3"/><circle cx="473.0" cy="734.5" r="2.3"/><circle cx="1413.4" cy="416.3" r="2.3"/><circle cx="1412.3" cy="436.4" r="2.3"/>
</g>
<rect x="1150" y="703.2" width="390" height="258.6" fill="#fff"/>
<rect x="1149.85" y="703.1" width="1.15" height="258.8" fill="#000"/>
<rect x="1538.8" y="703.1" width="1.2" height="258.8" fill="#000"/>
<rect x="1149.85" y="703.1" width="390.15" height="1.35" fill="#2e2e2e"/>
<rect x="1149.85" y="960.4" width="390.15" height="1.5" fill="#000"/>
<g fill="none" stroke="#000" stroke-width="5.3">
<path d="M1177 748.9H1280.2" stroke-width="4.5"/>
<path d="M1177 805.5H1279.2" stroke-dasharray="15.3 17"/>
<path d="M1177 861H1280" stroke-dasharray="4 15.7" stroke-dashoffset="2"/>
<path d="M1177 917.3H1280" stroke-dasharray="18 9.5 4 9.5"/>
</g>
<g class="lg">
<text x="1291.3" y="764.4">0.<tspan dx="2.2">1</tspan><tspan dx="-2.2">uMDNA</tspan></text>
<text x="1291.3" y="819.8">0.2uMDNA</text>
<text x="1291.3" y="876.0"><tspan dx="2.2">1</tspan><tspan dx="-2.2">uMDNA</tspan></text>
<text x="1291.3" y="932.0">2uMDNA</text>
</g>
<g fill="#fff"><rect x="138.32" y="64.38" width="10.70" height="6.52"/><rect x="154.01" y="64.38" width="9.76" height="6.52"/><rect x="138.32" y="181.63" width="10.70" height="6.52"/><rect x="154.01" y="181.63" width="9.76" height="6.52"/><rect x="138.32" y="885.13" width="10.70" height="6.52"/><rect x="154.01" y="885.13" width="9.76" height="6.52"/><rect x="138.32" y="1002.38" width="10.70" height="6.52"/><rect x="154.01" y="1002.38" width="9.76" height="6.52"/><rect x="746.56" y="1055.48" width="10.70" height="6.52"/><rect x="762.26" y="1055.48" width="9.76" height="6.52"/><rect x="1301.85" y="1055.48" width="10.70" height="6.52"/><rect x="1317.55" y="1055.48" width="9.76" height="6.52"/><rect x="1333.21" y="759.16" width="9.56" height="6.04"/><rect x="1347.19" y="759.16" width="8.67" height="6.04"/><rect x="1296.51" y="870.76" width="9.56" height="6.04"/><rect x="1310.49" y="870.76" width="8.67" height="6.04"/></g>
</svg>
</body>
</html>
